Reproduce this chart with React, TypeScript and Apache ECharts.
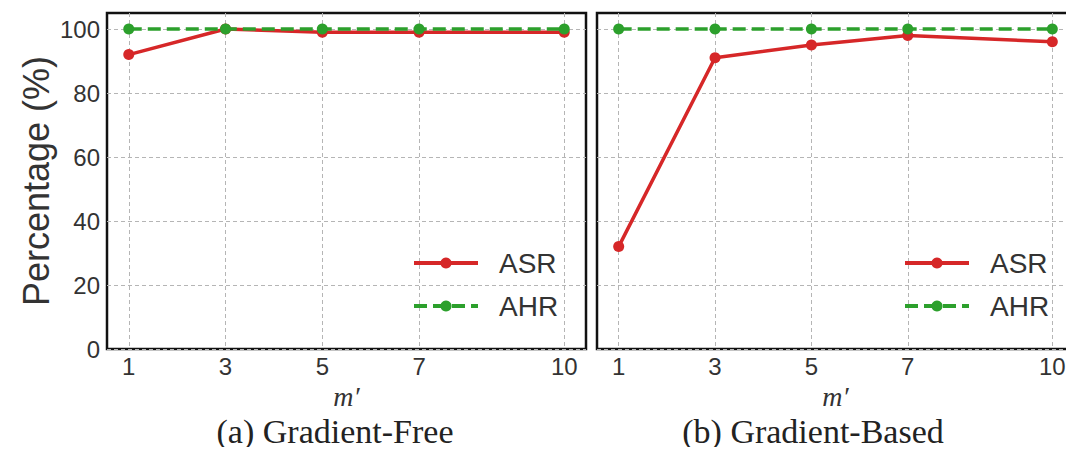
import React, { useEffect, useRef } from "react";
import * as echarts from "echarts";

const xValues = [1, 3, 5, 7, 10];
const yTicks = [0, 20, 40, 60, 80, 100];
const asrFree = [92, 100, 99, 99, 99];
const ahrFree = [100, 100, 100, 100, 100];
const asrBased = [32, 91, 95, 98, 96];
const ahrBased = [100, 100, 100, 100, 100];
const captions = ["(a) Gradient-Free", "(b) Gradient-Based"];

const RED = "#d62728";
const GREEN = "#2ca02c";
const SANS = "Liberation Sans, Arial, sans-serif";
const SERIF = "Liberation Serif, Times New Roman, serif";

export default function App() {
  const ref = useRef<HTMLDivElement>(null);
  useEffect(() => {
    const chart = echarts.init(ref.current!, null, { renderer: "svg" });
    const grids = [
      { left: 107, top: 13, width: 479, height: 336 },
      { left: 597, top: 13, width: 480, height: 336 },
    ];
    const mkX = (i: number) => ({
      type: "value",
      gridIndex: i,
      min: 0.55,
      max: 10.45,
      name: "m\u2032",
      nameLocation: "middle",
      nameGap: 30,
      nameTextStyle: { fontFamily: SERIF, fontStyle: "italic", fontSize: 28, color: "#333" },
      axisLine: { show: false },
      axisTick: { show: false, customValues: xValues },
      axisLabel: {
        customValues: xValues,
        fontFamily: SANS,
        fontSize: 24,
        color: "#333",
        margin: 5,
      },
      splitLine: { show: true, lineStyle: { color: "#b5b5b5", type: [4, 3], width: 1 } },
    });
    const mkY = (i: number) => ({
      type: "value",
      gridIndex: i,
      min: 0,
      max: 105,
      interval: 20,
      name: i === 0 ? "Percentage (%)" : "",
      nameLocation: "middle",
      nameGap: 53,
      nameTextStyle: { fontFamily: SANS, fontSize: 36, color: "#333" },
      axisLine: { show: false },
      axisTick: { show: false, customValues: yTicks },
      axisLabel: {
        show: i === 0,
        customValues: yTicks,
        fontFamily: SANS,
        fontSize: 24,
        color: "#333",
        margin: 7,
      },
      splitLine: { show: true, lineStyle: { color: "#b5b5b5", type: [4, 3], width: 1 } },
    });
    const mkSeries = (name: string, data: number[], i: number, color: string, dashed: boolean) => ({
      type: "line",
      name,
      xAxisIndex: i,
      yAxisIndex: i,
      data: xValues.map((x, k) => [x, data[k]]),
      symbol: "circle",
      symbolSize: 11,
      itemStyle: { color },
      lineStyle: { color, width: 3.5, type: dashed ? [13, 6] : "solid" },
      legendHoverLink: false,
      z: dashed ? 3 : 2,
    });
    chart.setOption({
      animation: false,
      grid: grids.map((g) => ({
        ...g,
        show: true,
        borderColor: "#111",
        borderWidth: 2.5,
        backgroundColor: "transparent",
        containLabel: false,
      })),
      xAxis: [mkX(0), mkX(1)],
      yAxis: [mkY(0), mkY(1)],
      legend: [
        { left: 412, top: 249 },
        { left: 903, top: 249 },
      ].map((p, i) => ({
        ...p,
        orient: "vertical",
        padding: 0,
        itemWidth: 64,
        itemHeight: 14,
        itemGap: 15,
        data: i === 0 ? ["ASR", "AHR"] : ["ASR ", "AHR "],
        lineStyle: { width: 4 },
        textStyle: { fontFamily: SANS, fontSize: 28, color: "#333", padding: [0, 0, 0, 16] },
        selectedMode: false,
      })),
      title: captions.map((c, i) => ({
        text: c,
        left: i === 0 ? 335 : 813,
        top: 413,
        textAlign: "center",
        padding: 0,
        textStyle: { fontFamily: SERIF, fontSize: 34, lineHeight: 36, fontWeight: "normal", color: "#222" },
      })),
      series: [
        mkSeries("ASR", asrFree, 0, RED, false),
        mkSeries("AHR", ahrFree, 0, GREEN, true),
        mkSeries("ASR ", asrBased, 1, RED, false),
        mkSeries("AHR ", ahrBased, 1, GREEN, true),
      ],
    });
    return () => chart.dispose();
  }, []);
  return <div ref={ref} style={{ width: 1074, height: 455, margin: -8 }} />;
}
